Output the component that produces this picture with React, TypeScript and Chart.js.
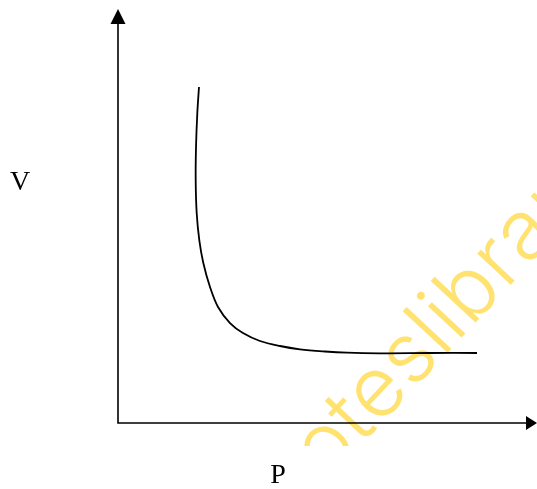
import React, { useEffect, useRef } from "react";
import { Chart, registerables } from "chart.js";

Chart.register(...registerables);

// Data (arbitrary units: P along x, V along y)
const pressure: number[] = [19.33, 18.93, 18.62, 18.54, 18.78, 19.4, 20.36, 21.96, 23.87, 26.73, 29.83, 33.89, 38.66, 43.44, 49.4, 54.65, 62.53, 74.46, 85.68];
const volume: number[] = [81.16, 74.88, 66.67, 58.7, 50.72, 44.2, 38.65, 32.85, 28.02, 24.15, 21.74, 19.81, 18.6, 17.8, 17.27, 16.98, 16.84, 16.91, 16.91];
const axisLabels = { x: "P", y: "V" };
const watermarkText = "noteslibrary";

const W = 537;
const H = 489;

const pvPlugin = {
  id: "pvDecor",
  beforeDatasetsDraw(chart: any) {
    const ctx = chart.ctx as CanvasRenderingContext2D;
    const xs = chart.scales.x;
    const ys = chart.scales.y;
    const x0 = xs.getPixelForValue(0);
    const y0 = ys.getPixelForValue(0);
    const xEnd = xs.getPixelForValue(100);
    const yEnd = ys.getPixelForValue(100);

    // watermark
    ctx.save();
    ctx.beginPath();
    ctx.rect(0, 0, W, 446);
    ctx.clip();
    ctx.fillStyle = "#FFE270";
    const theta = (-47 * Math.PI) / 180;
    const size = 84;
    ctx.font = `300 ${size}px Inter`;
    (ctx as any).letterSpacing = "1px";
    const mid = (s: string) => ctx.measureText(s).width;
    const eStart = mid("not");
    const eW = ctx.measureText("e").width;
    ctx.translate(396, 408);
    ctx.rotate(theta);
    ctx.textBaseline = "alphabetic";
    ctx.textAlign = "left";
    ctx.fillText(watermarkText, -(eStart + eW / 2), 0);
    ctx.restore();

    // axes with arrows
    ctx.save();
    ctx.strokeStyle = "#000";
    ctx.fillStyle = "#000";
    ctx.lineWidth = 1.6;
    ctx.beginPath();
    ctx.moveTo(x0, yEnd + 14);
    ctx.lineTo(x0, y0);
    ctx.lineTo(xEnd - 10, y0);
    ctx.stroke();
    ctx.beginPath();
    ctx.moveTo(x0, yEnd);
    ctx.lineTo(x0 - 7.5, yEnd + 15);
    ctx.lineTo(x0 + 7.5, yEnd + 15);
    ctx.closePath();
    ctx.fill();
    ctx.beginPath();
    ctx.moveTo(xEnd, y0);
    ctx.lineTo(xEnd - 11, y0 - 7);
    ctx.lineTo(xEnd - 11, y0 + 7);
    ctx.closePath();
    ctx.fill();

    // axis labels
    ctx.font = "28px 'Liberation Serif'";
    ctx.textAlign = "center";
    ctx.textBaseline = "middle";
    ctx.fillText(axisLabels.y, 20, ys.getPixelForValue(58));
    ctx.fillText(axisLabels.x, xs.getPixelForValue(38.2), 476);
    ctx.restore();
  },
};

export default function App() {
  const ref = useRef<HTMLCanvasElement | null>(null);
  useEffect(() => {
    if (!ref.current) return;
    const chart = new Chart(ref.current, {
      type: "scatter",
      data: {
        datasets: [
          {
            data: pressure.map((p, i) => ({ x: p, y: volume[i] })),
            showLine: true,
            borderColor: "#000",
            borderWidth: 1.8,
            pointRadius: 0,
            tension: 0.35,
            fill: false,
          },
        ],
      },
      options: {
        animation: false,
        responsive: false,
        layout: { padding: { left: 118, top: 9, right: 0, bottom: 66 } },
        plugins: { legend: { display: false }, tooltip: { enabled: false } },
        scales: {
          x: { type: "linear", min: 0, max: 100, display: false },
          y: { type: "linear", min: 0, max: 100, display: false },
        },
      },
      plugins: [pvPlugin],
    });
    return () => chart.destroy();
  }, []);
  return (
    <div style={{ position: "fixed", left: 0, top: 0, width: W, height: H, background: "#fff" }}>
      <canvas ref={ref} width={W} height={H} style={{ display: "block" }} />
    </div>
  );
}
